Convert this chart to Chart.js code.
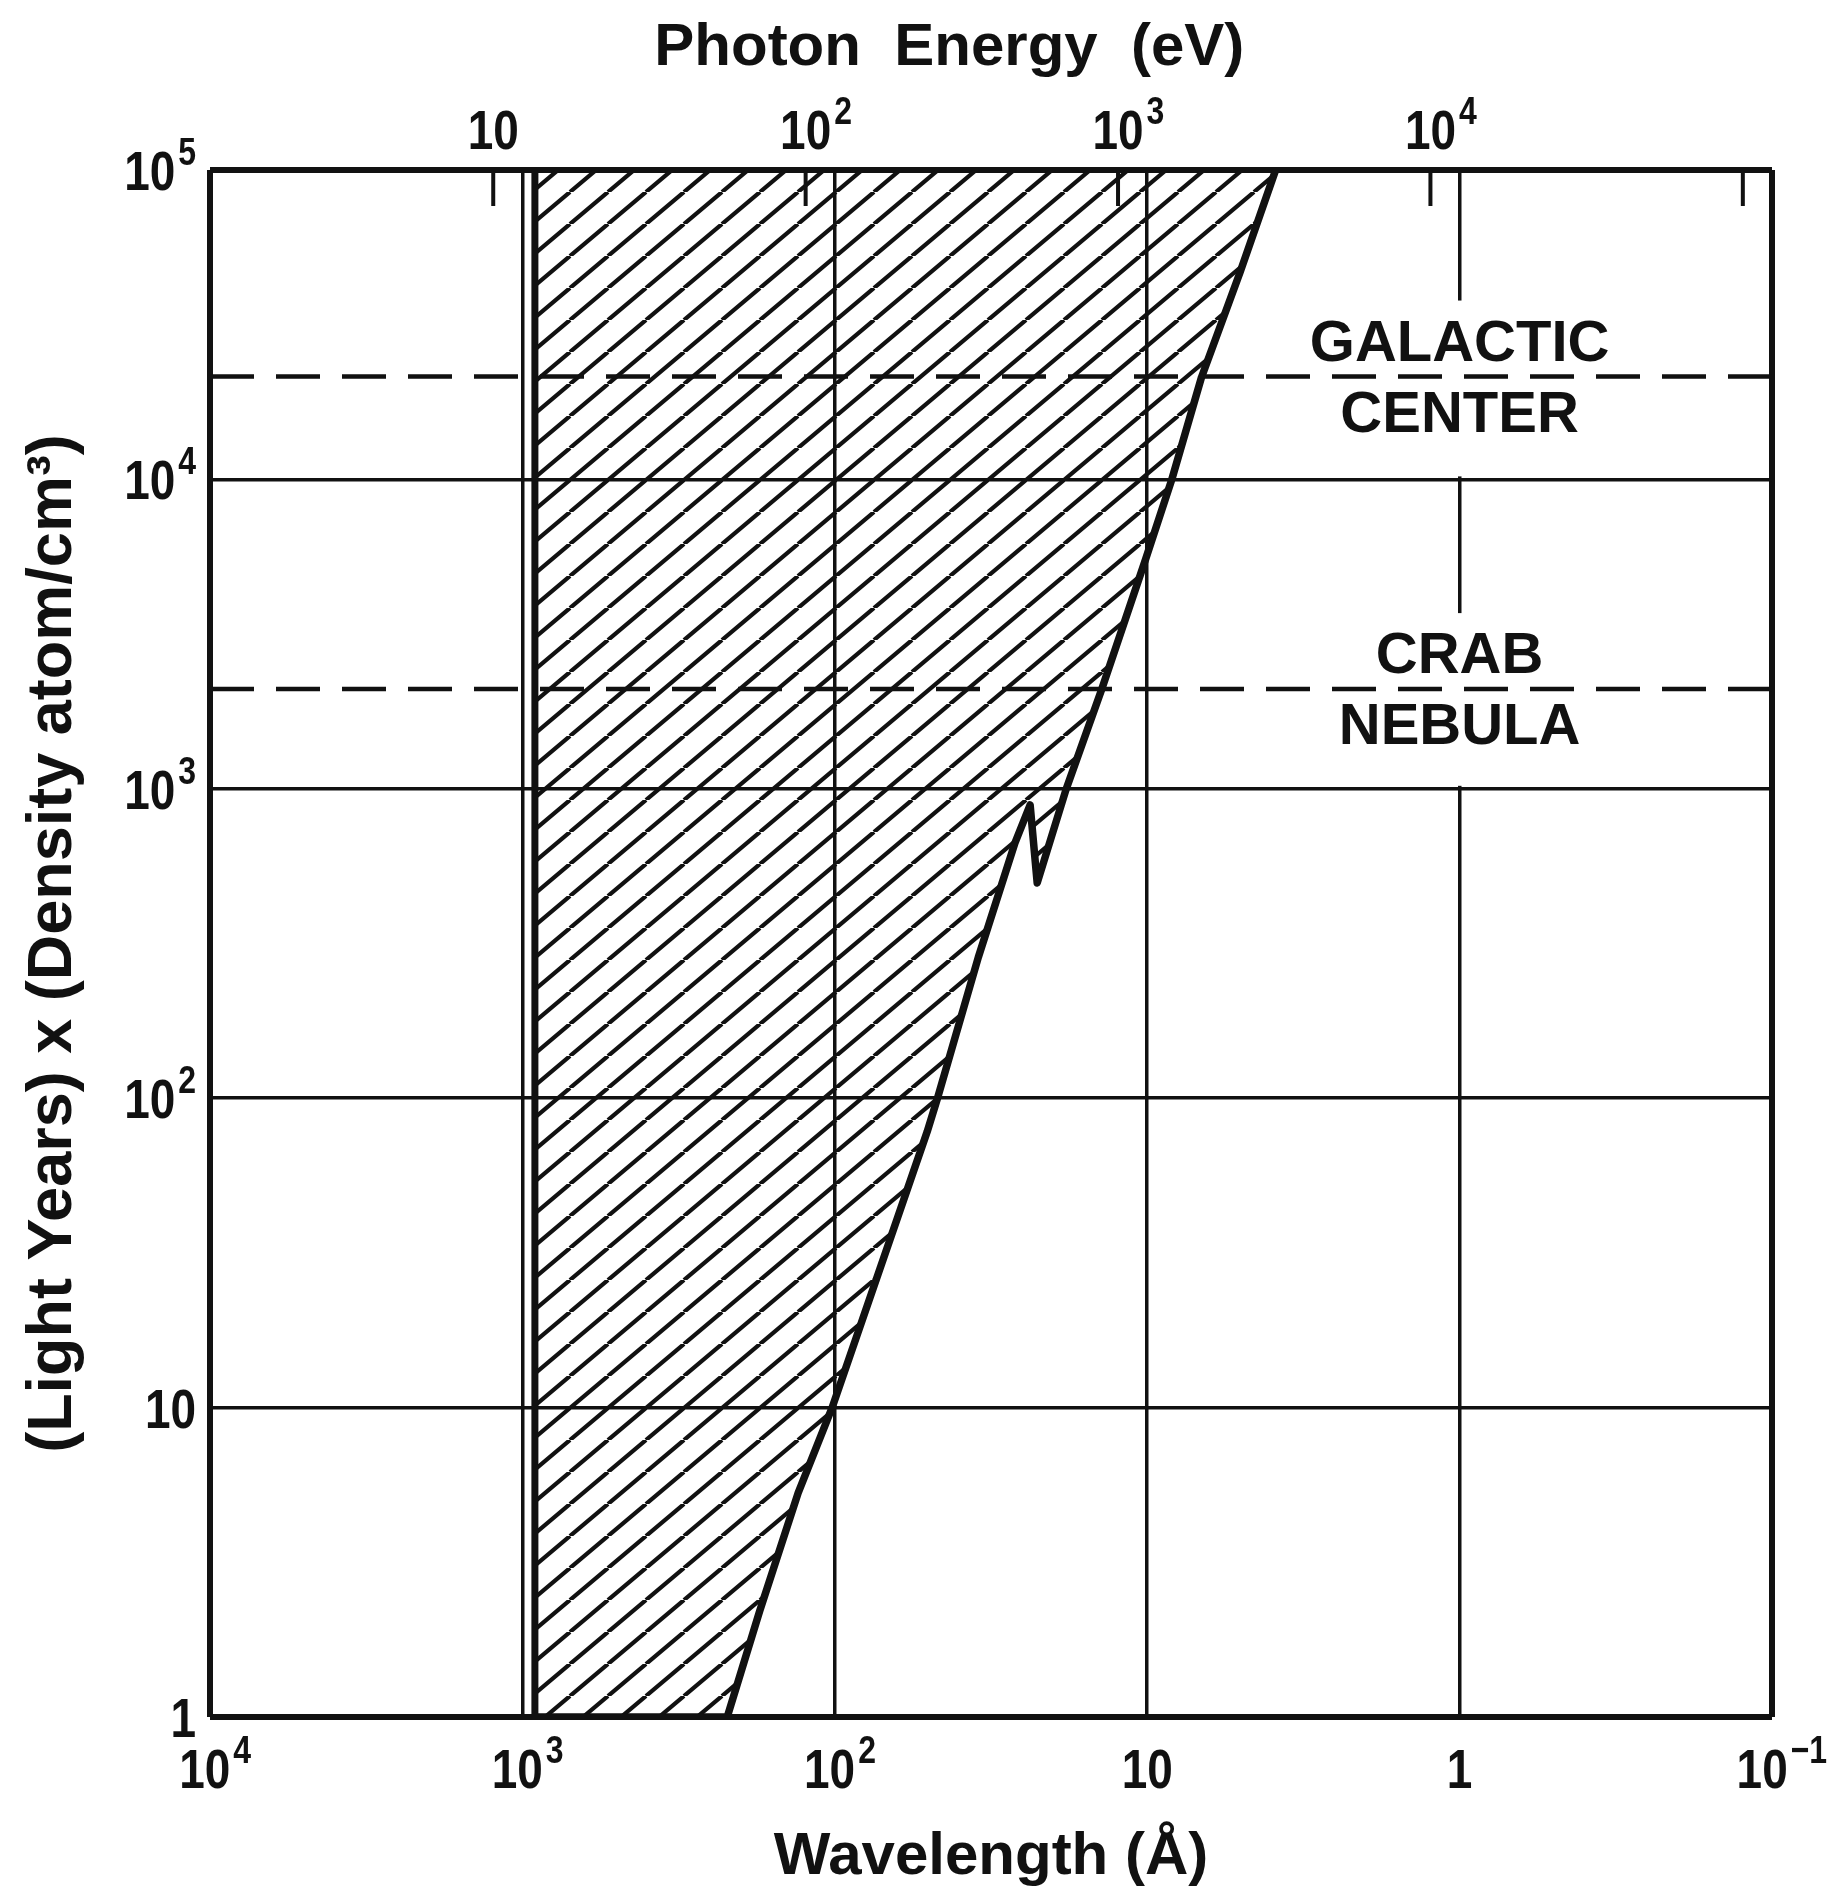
<!DOCTYPE html>
<html><head><meta charset="utf-8">
<script src="https://cdn.jsdelivr.net/npm/chart.js@4.4.1/dist/chart.umd.min.js"></script>
<style>html,body{margin:0;padding:0;background:#fff;} canvas{display:block;}</style>
</head><body>
<canvas id="c" width="1830" height="1890"></canvas>
<script>
// ---------------- data ----------------
const wavelengthTicks = [10000, 1000, 100, 10, 1, 0.1];
const wavelengthTickBase = ['10', '10', '10', '10', '1', '10'];
const wavelengthTickExp  = ['4', '3', '2', '', '', '−1'];
const energyTicks = [10, 100, 1000, 10000, 100000];
const energyTickBase = ['10', '10', '10', '10', ''];
const energyTickExp  = ['', '2', '3', '4', ''];
const densityTicks = [1, 10, 100, 1000, 10000, 100000];
const densityTickBase = ['1', '10', '10', '10', '10', '10'];
const densityTickExp  = ['', '', '2', '3', '4', '5'];

// Lyman limit boundary (Å) of the hatched region
const lymanWavelength = [912, 912];
const lymanDensity = [1, 100000];

// right-hand boundary of the hatched region (wavelength Å, light-years x atom/cm3)
const edgeWavelength = [912, 221, 174, 131, 102, 50.6, 46.9, 34.7, 26.5, 23.7, 22.5, 18.2, 14.0, 10.1, 8.34, 6.70, 5.04, 3.88];
const edgeDensity    = [1, 1, 2.2, 5.3, 10, 78, 100, 286, 669, 887, 496, 993, 2090, 5550, 10000, 21400, 46800, 100000];

// reference sources (dashed lines)
const sourceNames = [['GALACTIC', 'CENTER'], ['CRAB', 'NEBULA']];
const sourceDensity = [21500, 2100];
const sourceLabelWavelength = [1, 1];
const lineWavelengthRange = [10000, 0.1];

const HC = 12398.4; // eV·Å

// ---------------- styles ----------------
const INK = '#111';
const FAMILY = "'Liberation Sans', 'DejaVu Sans', sans-serif";
const TITLE_FONT = {family: FAMILY, size: 60, weight: 'bold', lineHeight: 1};
const YTITLE_FONT = {family: FAMILY, size: 63, weight: 'bold', lineHeight: 1};
const NOTE_FONT = "bold 58px " + FAMILY;
const TICK_SIZE = 56, EXP_SIZE = 39, SQUEEZE = 0.82;

const canvas = document.getElementById('c');
const mainCtx = canvas.getContext('2d');

function makeHatch() {
  const w = 38, h = 32;
  const t = document.createElement('canvas');
  t.width = w; t.height = h;
  const g = t.getContext('2d');
  g.strokeStyle = INK; g.lineWidth = 4.2;
  for (const dx of [-w, 0, w]) {
    g.beginPath(); g.moveTo(dx, h); g.lineTo(dx + w, 0); g.stroke();
  }
  return mainCtx.createPattern(t, 'repeat');
}
const hatch = makeHatch();

const pts = (xs, ys) => xs.map((x, i) => ({x, y: ys[i]}));
const setTicks = vals => scale => { scale.ticks = vals.map(v => ({value: v})); };

// label "base^exp": anchor 'base' = base centred on x (shifted by part of exponent), 'right' = right-aligned at x
function drawExpLabel(ctx, base, exp, x, yMid, anchor, expShare) {
  if (!base) return;
  ctx.save();
  const baseFont = 'bold ' + TICK_SIZE + 'px ' + FAMILY;
  const expFont = 'bold ' + EXP_SIZE + 'px ' + FAMILY;
  ctx.font = baseFont; const wb = ctx.measureText(base).width * SQUEEZE;
  ctx.font = expFont; const we = exp ? ctx.measureText(exp).width * SQUEEZE + 3 : 0;
  const cap = TICK_SIZE * 0.716;
  const x0 = anchor === 'right' ? x - wb - we : x - wb / 2 - (expShare || 0) * we;
  const baseline = yMid + cap / 2;
  ctx.fillStyle = INK; ctx.textAlign = 'left'; ctx.textBaseline = 'alphabetic';
  ctx.translate(x0, baseline);
  ctx.scale(SQUEEZE, 1);
  ctx.font = baseFont; ctx.fillText(base, 0, 0);
  if (exp) { ctx.font = expFont; ctx.fillText(exp, (wb + 3) / SQUEEZE, -cap * 0.63); }
  ctx.restore();
}

const tickLabels = {
  id: 'tickLabels',
  afterDraw(chart) {
    const ctx = chart.ctx, a = chart.chartArea;
    const xs = chart.scales.x, x2 = chart.scales.x2, ys = chart.scales.y;
    wavelengthTicks.forEach((v, i) => drawExpLabel(ctx, wavelengthTickBase[i], wavelengthTickExp[i], xs.getPixelForValue(v), a.bottom + 51, 'base', 0.25));
    energyTicks.forEach((v, i) => drawExpLabel(ctx, energyTickBase[i], energyTickExp[i], x2.getPixelForValue(v), a.top - 41, 'base', 0));
    densityTicks.forEach((v, i) => drawExpLabel(ctx, densityTickBase[i], densityTickExp[i], a.left - 14, ys.getPixelForValue(v), 'right'));
  }
};

const innerTicks = {
  id: 'innerTicks',
  afterDatasetsDraw(chart) {
    const s = chart.scales.x2, ctx = chart.ctx, top = chart.chartArea.top;
    ctx.save();
    ctx.strokeStyle = INK; ctx.lineWidth = 4;
    energyTicks.forEach(v => {
      const x = s.getPixelForValue(v);
      ctx.beginPath(); ctx.moveTo(x, top); ctx.lineTo(x, top + 36); ctx.stroke();
    });
    ctx.restore();
  }
};

const sourceLabels = {
  id: 'sourceLabels',
  beforeDatasetsDraw(chart) {
    const ctx = chart.ctx, xs = chart.scales.x, ys = chart.scales.y;
    ctx.save();
    ctx.font = NOTE_FONT;
    ctx.fillStyle = '#fff';
    sourceNames.forEach((names, i) => {
      const cx = xs.getPixelForValue(sourceLabelWavelength[i]);
      const ly = ys.getPixelForValue(sourceDensity[i]);
      const w = Math.max(...names.map(n => ctx.measureText(n).width)) + 20;
      const below = ys.getPixelForValue(Math.pow(10, Math.floor(Math.log10(sourceDensity[i]))));
      const top = ly - 76;
      ctx.fillRect(cx - w / 2, top, w, below - 3 - top);
    });
    ctx.restore();
  },
  afterDatasetsDraw(chart) {
    const ctx = chart.ctx, xs = chart.scales.x, ys = chart.scales.y;
    ctx.save();
    ctx.font = NOTE_FONT;
    ctx.fillStyle = INK;
    ctx.textAlign = 'center';
    ctx.textBaseline = 'alphabetic';
    sourceNames.forEach((names, i) => {
      const cx = xs.getPixelForValue(sourceLabelWavelength[i]);
      const ly = ys.getPixelForValue(sourceDensity[i]);
      ctx.fillText(names[0], cx, ly - 16);
      ctx.fillText(names[1], cx, ly + 55);
    });
    ctx.restore();
  }
};

const edgeWidth = (vals, thick, thin) => c => (c.tick && (c.tick.value === vals[0] || c.tick.value === vals[vals.length - 1])) ? thick : thin;

new Chart(mainCtx, {
  type: 'line',
  data: {
    datasets: [
      {label: 'Galactic Center', data: pts(lineWavelengthRange, [sourceDensity[0], sourceDensity[0]]),
       borderColor: INK, borderWidth: 4.5, borderDash: [44, 22], pointRadius: 0, fill: false},
      {label: 'Crab Nebula', data: pts(lineWavelengthRange, [sourceDensity[1], sourceDensity[1]]),
       borderColor: INK, borderWidth: 4.5, borderDash: [44, 22], pointRadius: 0, fill: false},
      {label: 'Lyman limit', data: pts(lymanWavelength, lymanDensity),
       borderColor: INK, borderWidth: 7, pointRadius: 0, fill: false},
      {label: 'Absorption', data: pts(edgeWavelength, edgeDensity),
       borderColor: INK, borderWidth: 7.5, pointRadius: 0, tension: 0, borderJoinStyle: 'round',
       fill: 'end', backgroundColor: hatch}
    ]
  },
  options: {
    responsive: false,
    animation: false,
    events: [],
    layout: {padding: {left: 0, top: 0, bottom: 0, right: 58}},
    plugins: {legend: {display: false}, tooltip: {enabled: false}},
    scales: {
      x: {
        type: 'logarithmic', position: 'bottom', reverse: true,
        min: 0.1, max: 10000,
        afterBuildTicks: setTicks(wavelengthTicks),
        afterFit: s => { s.height = 173; },
        border: {display: false},
        grid: {color: INK, lineWidth: edgeWidth(wavelengthTicks, 6, 3.5), drawTicks: false},
        ticks: {display: false},
        title: {display: true, text: 'Wavelength (Å)', color: INK, font: TITLE_FONT, padding: {top: 0, bottom: 3}}
      },
      x2: {
        type: 'logarithmic', position: 'top',
        min: HC / 10000, max: HC / 0.1,
        afterBuildTicks: setTicks(energyTicks),
        afterFit: s => { s.height = 170; },
        border: {display: false},
        grid: {display: false, drawTicks: false},
        ticks: {display: false},
        title: {display: true, text: 'Photon  Energy  (eV)     ', color: INK, font: TITLE_FONT, padding: {top: 18, bottom: 0}}
      },
      y: {
        type: 'logarithmic', position: 'left',
        min: 1, max: 100000,
        afterBuildTicks: setTicks(densityTicks),
        afterFit: s => { s.width = 210; },
        border: {display: false},
        grid: {color: INK, lineWidth: edgeWidth(densityTicks, 6, 3.5), drawTicks: false},
        ticks: {display: false},
        title: {display: true, text: '(Light Years) x (Density atom/cm³)', color: INK, font: YTITLE_FONT, padding: {top: 22, bottom: 0}}
      }
    }
  },
  plugins: [sourceLabels, innerTicks, tickLabels]
});
</script>
</body></html>
